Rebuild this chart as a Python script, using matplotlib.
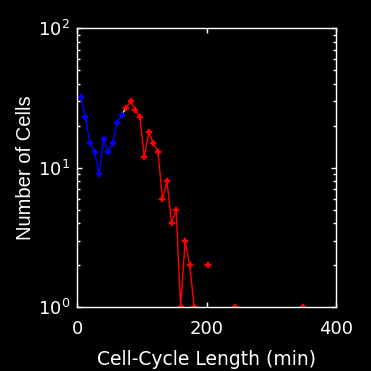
import numpy as np
import matplotlib
matplotlib.use('Agg')
import matplotlib.pyplot as plt
from matplotlib.ticker import FixedLocator, LogLocator, NullFormatter

# histogram of cell-cycle lengths (bins ~7 min wide)
x_blue = [6, 13, 20, 27, 34, 41, 48, 55, 62, 69]
y_blue = [32, 23, 15, 13, 9, 16, 13, 15, 21, 24]

x_red = [76, 83, 90, 97, 104, 111, 118, 125, 132, 139, 146, 153, 160, 167, 174, 181]
y_red = [27, 30, 26, 23, 12, 18, 15, 13, 6, 8, 4, 5, 1, 3, 2, 1]

# isolated bins (neighbours are empty)
x_tail = [202, 244, 349]
y_tail = [2, 1, 1]

plt.rcParams['font.family'] = ['DejaVu Sans']

fig = plt.figure(figsize=(3.71, 3.71), dpi=100, facecolor='black')
ax = fig.add_axes([0.2076, 0.1725, 0.6981, 0.7512])
ax.set_facecolor('black')

ax.plot([x_blue[-1], x_red[0]], [y_blue[-1], y_red[0]], color='yellow', lw=1)
ax.plot(x_blue, y_blue, color='blue', lw=1, marker='P', ms=4.2, mew=0.3)
ax.plot(x_red, y_red, color='red', lw=1, marker='P', ms=4.2, mew=0.3)
ax.plot(x_tail, y_tail, color='red', ls='none', marker='P', ms=4.2, mew=0.3)

ax.set_yscale('log')
ax.set_xlim(0, 400)
ax.set_ylim(1, 100)
ax.xaxis.set_major_locator(FixedLocator([0, 200, 400]))
ax.yaxis.set_major_locator(FixedLocator([1, 10, 100]))
ax.set_yticklabels([r'$\mathregular{10^{0}}$', r'$\mathregular{10^{1}}$', r'$\mathregular{10^{2}}$'])
ax.yaxis.set_minor_locator(LogLocator(base=10, subs=np.arange(2, 10)))
ax.yaxis.set_minor_formatter(NullFormatter())

for s in ax.spines.values():
    s.set_color('white')
    s.set_linewidth(1)
ax.tick_params(which='both', direction='in', colors='white', top=True, right=True,
               width=1)
ax.tick_params(axis='x', labelsize=13, pad=9)
ax.tick_params(axis='y', labelsize=13, pad=5)
ax.tick_params(which='major', length=3.5)
ax.tick_params(which='minor', length=2)

ax.set_xlabel('Cell-Cycle Length (min)', color='white', fontsize=13.5, labelpad=9)
ax.set_ylabel('Number of Cells', color='white', fontsize=14.5, labelpad=2,
              family='Liberation Sans')

fig.savefig('out.png', dpi=100, facecolor='black')
